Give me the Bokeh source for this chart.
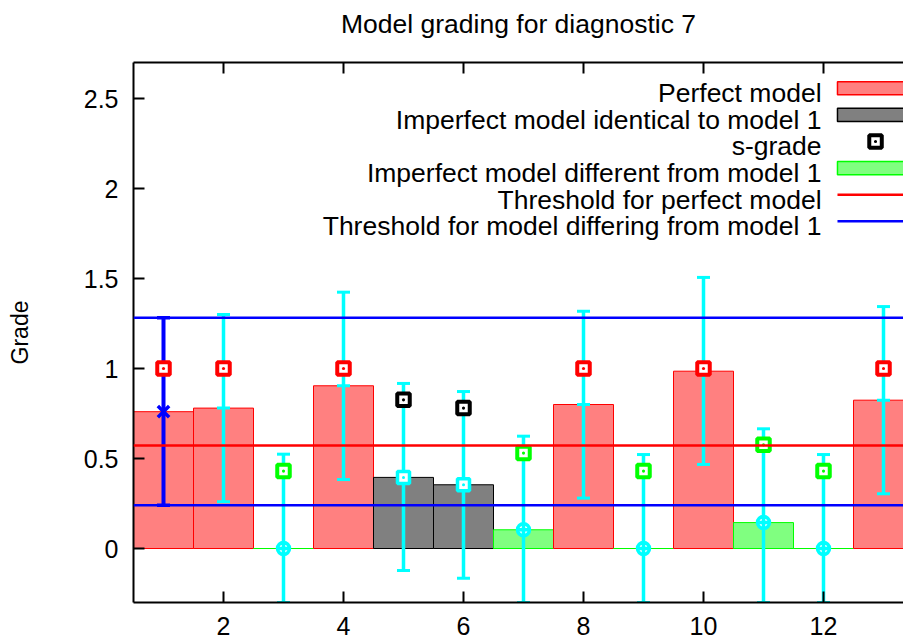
from bokeh.plotting import figure
from bokeh.models import (Span, ColumnDataSource, FixedTicker, LinearAxis, Range1d,
                          NumeralTickFormatter)
from bokeh.embed import file_html
from bokeh.resources import INLINE
from bokeh.core.properties import value

# ---------------- data ----------------
models = list(range(1, 14))
bar_values = [0.76, 0.78, 0.0, 0.904, 0.395, 0.354, 0.104, 0.80, 0.0, 0.985, 0.144, 0.0, 0.824]
model_kind = ["perfect", "perfect", "different", "perfect", "identical", "identical",
              "different", "perfect", "different", "perfect", "different", "different", "perfect"]
s_grade = [1.0, 1.0, 0.43, 1.0, 0.826, 0.78, 0.53, 1.0, 0.43, 1.0, 0.576, 0.43, 1.0]
err_upper = [1.282, 1.30, 0.524, 1.424, 0.917, 0.872, 0.624, 1.318, 0.522, 1.506, 0.665, 0.522, 1.344]
err_lower = [0.24, 0.26, -0.3, 0.383, -0.122, -0.165, -0.3, 0.28, -0.3, 0.467, -0.3, -0.3, 0.304]
threshold_perfect = 0.572
threshold_differing = [0.24, 1.282]
y_ticks = [0, 0.5, 1, 1.5, 2, 2.5]
x_ticks = [2, 4, 6, 8, 10, 12]
title_text = "Model grading for diagnostic 7"
legend_labels = ["Perfect model", "Imperfect model identical to model 1", "s-grade",
                 "Imperfect model different from model 1", "Threshold for perfect model",
                 "Threshold for model differing from model 1"]

FONT = "Liberation Sans"
fill_of = {"perfect": "#FF8080", "identical": "#808080", "different": "#80FF80"}
line_of = {"perfect": "#FF0000", "identical": "#000000", "different": "#00FF00"}
sq_of = {"perfect": "#FF0000", "identical": "#000000", "different": "#00FF00"}
cyan = "#00FFFF"
blue = "#0000FF"

Y_MIN, Y_MAX = -0.3, 2.7
p = figure(width=903, height=639, x_range=Range1d(0.5, 13.3333), y_range=Range1d(Y_MIN, Y_MAX),
           output_backend="svg", toolbar_location=None,
           min_border_left=133, min_border_right=0, min_border_top=62, min_border_bottom=37)
p.title.visible = False
p.outline_line_color = None
p.grid.visible = False
p.background_fill_color = "white"
p.border_fill_color = "white"

# bottom axis
xa = p.xaxis[0]
xa.ticker = FixedTicker(ticks=x_ticks)
xa.major_tick_in = 11
xa.major_tick_out = 0
xa.minor_tick_line_color = None
xa.axis_line_width = 2
xa.major_tick_line_width = 2
xa.major_label_text_font = FONT
xa.major_label_text_font_size = "25px"
xa.major_label_text_color = "black"
xa.major_label_standoff = 14

# top mirror axis, carrying the chart title as its label
ta = LinearAxis(ticker=FixedTicker(ticks=x_ticks), major_tick_in=11, major_tick_out=0,
                minor_tick_line_color=None, axis_line_width=2, major_tick_line_width=2,
                major_label_text_color=None, major_label_text_font_size="1px",
                major_label_standoff=0,
                axis_label=title_text, axis_label_text_font=FONT,
                axis_label_text_font_size="26.5px", axis_label_text_font_style="normal",
                axis_label_text_color="black", axis_label_standoff=24)
p.add_layout(ta, "above")

# left axis
ya = p.yaxis[0]
ya.ticker = FixedTicker(ticks=y_ticks)
ya.formatter = NumeralTickFormatter(format="0.[0]")
ya.major_tick_in = 11
ya.major_tick_out = 0
ya.minor_tick_line_color = None
ya.axis_line_width = 2
ya.major_tick_line_width = 2
ya.major_label_text_font = FONT
ya.major_label_text_font_size = "25px"
ya.major_label_text_color = "black"
ya.major_label_standoff = 15
ya.axis_label = "Grade"
ya.axis_label_text_font = FONT
ya.axis_label_text_font_size = "23px"
ya.axis_label_text_font_style = "normal"
ya.axis_label_text_color = "black"
ya.axis_label_standoff = 48

# ---------------- bars ----------------
src = ColumnDataSource(dict(
    x=models, top=bar_values, kind=model_kind,
    fill=[fill_of[k] for k in model_kind], line=[line_of[k] for k in model_kind],
    sq=[sq_of[k] for k in model_kind], sg=s_grade, up=err_upper, lo=err_lower))
p.vbar(x="x", top="top", bottom=0, width=1.0, fill_color="fill", line_color="line",
       line_width=1, source=src)

# ---------------- error bars ----------------
ex = models[1:]
eu = err_upper[1:]
el = err_lower[1:]
ec = bar_values[1:]
ek = model_kind[1:]
p.segment(x0=ex, y0=el, x1=ex, y1=eu, line_color=cyan, line_width=3.5)
p.scatter(x=ex, y=eu, marker="dash", size=13, line_color=cyan, line_width=3)
p.scatter(x=ex, y=el, marker="dash", size=13, line_color=cyan, line_width=3)

# model 1 threshold error bar (blue)
p.segment(x0=models[:1], y0=err_lower[:1], x1=models[:1], y1=err_upper[:1],
          line_color=blue, line_width=4)
p.scatter(x=models[:1], y=err_upper[:1], marker="dash", size=13, line_color=blue, line_width=3.5)
p.scatter(x=models[:1], y=err_lower[:1], marker="dash", size=13, line_color=blue, line_width=3.5)
p.scatter(x=models[:1], y=bar_values[:1], marker="x", size=16, line_color=blue, line_width=3.5)

# cyan centre markers by kind
for kind, marker in [("perfect", "cross"), ("identical", "square_dot"), ("different", "circle_cross")]:
    xs = [x for x, k in zip(ex, ek) if k == kind]
    ys = [y for y, k in zip(ec, ek) if k == kind]
    if kind == "perfect":
        p.scatter(x=xs, y=ys, marker=marker, size=13, line_color=cyan, line_width=3)
    else:
        p.scatter(x=xs, y=ys, marker=marker, size=12, line_color=cyan, fill_color="white",
                  line_width=3.5)

# s-grade squares
p.scatter(x="x", y="sg", marker="square_dot", size=12.5, line_color="sq", fill_color="white",
          line_width=4, source=src)

# thresholds
p.add_layout(Span(location=threshold_perfect, dimension="width", line_color="#FF0000", line_width=2.5))
for t in threshold_differing:
    p.add_layout(Span(location=t, dimension="width", line_color=blue, line_width=2.5))

# ---------------- legend (gnuplot style: text right-aligned, sample to the right) ----------------
row_top = 2.557
row_step = 26.6 / 180.0
rows = [row_top - i * row_step for i in range(len(legend_labels))]
text_x = 11.967
samp_l, samp_r, samp_c = 12.233, 13.5, 12.867
half_h = 6.6 / 180.0
p.text(x=[text_x] * len(rows), y=[r - 0.028 for r in rows], text=legend_labels,
       text_align="right", text_baseline="middle", text_font=value(FONT),
       text_font_size="26.5px", text_color="black")
box_rows = [rows[0], rows[1], rows[3]]
p.quad(left=samp_l, right=samp_r, top=[r + half_h for r in box_rows],
       bottom=[r - half_h for r in box_rows],
       fill_color=[fill_of["perfect"], fill_of["identical"], fill_of["different"]],
       line_color=[line_of["perfect"], line_of["identical"], line_of["different"]], line_width=1.5)
p.scatter(x=[samp_c], y=[rows[2]], marker="square_dot", size=12.5, line_color="black",
          fill_color="white", line_width=4)
p.segment(x0=[samp_l, samp_l], y0=[rows[4], rows[5]], x1=[samp_r, samp_r], y1=[rows[4], rows[5]],
          line_color=["#FF0000", blue], line_width=2.5)

open("out.html", "w").write(file_html(p, INLINE))
